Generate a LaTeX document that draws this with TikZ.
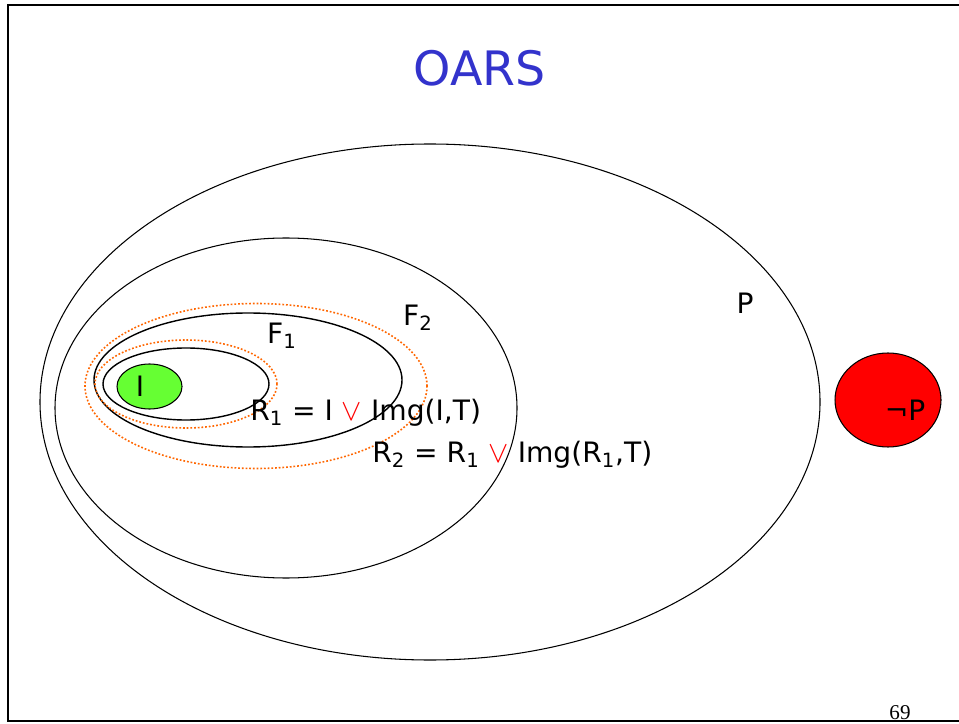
\documentclass[tikz,border=0pt]{standalone}
\usepackage{fontspec}
\setmainfont{DejaVu Sans}
\newfontfamily\pagenofont{Liberation Serif}
\usepackage{tikz}
\usetikzlibrary{shapes.geometric}
\definecolor{titleblue}{RGB}{51,51,204}
\definecolor{initgreen}{RGB}{102,255,51}
\definecolor{reachorange}{RGB}{255,102,0}

\begin{document}
\begin{tikzpicture}[
    setnode/.style={ellipse, draw, line width=0.6pt, inner sep=0pt},
    frontier/.style={ellipse, draw, line width=0.8pt, inner sep=0pt},
    reach/.style={ellipse, draw=reachorange, line width=0.9pt,
                  dash pattern=on 1pt off 1.1pt, inner sep=0pt},
    lbl/.style={font=\fontsize{16}{19}\selectfont, inner sep=0pt},
    eqn/.style={font=\fontsize{16}{19}\selectfont, inner sep=0pt, anchor=west}
]
\useasboundingbox (0,0) rectangle (19.18,14.46);

%% ---- frame ----
\draw[line width=1.4pt] (19.18,14.36) -- (0.16,14.36) -- (0.16,0.04) -- (19.18,0.04);

%% ---- title ----
\node[font=\fontsize{27}{30}\selectfont, color=titleblue] (title) at (9.60,13.10) {OARS};

%% ---- sets ----
\node[setnode, minimum width=15.6cm, minimum height=10.32cm] (P)  at (8.60,6.42) {};
\node[setnode, minimum width=9.24cm, minimum height=6.80cm]  (S)  at (5.72,6.30) {};
\node[frontier, minimum width=6.16cm, minimum height=2.68cm] (F2) at (4.96,6.86) {};
\node[frontier, minimum width=3.32cm, minimum height=1.44cm] (F1) at (3.72,6.78) {};
\node[reach, minimum width=3.64cm, minimum height=1.76cm]    (R1) at (3.72,6.78) {};
\node[reach, minimum width=6.84cm, minimum height=3.30cm]    (R2) at (5.12,6.74) {};
\node[setnode, fill=initgreen, minimum width=1.30cm, minimum height=0.90cm] (I) at (2.99,6.73) {};
\node[setnode, fill=red, minimum width=2.12cm, minimum height=1.88cm] (notP) at (17.76,6.46) {};

%% ---- labels ----
\node[lbl] (Plbl)    at (14.90,8.40) {P};
\node[lbl] (F2lbl)   at (8.36,8.10)  {F\textsubscript{2}};
\node[lbl] (F1lbl)   at (5.64,7.74)  {F\textsubscript{1}};
\node[lbl] (Ilbl)    at (2.80,6.74)  {I};
\node[lbl] (notPlbl) at (18.10,6.26) {¬P};
\node[eqn] (R1lbl) at (5.00,6.20) {R\textsubscript{1} = I \textcolor{red}{$\vee$} Img(I,T)};
\node[eqn] (R2lbl) at (7.44,5.36) {R\textsubscript{2} = R\textsubscript{1} \textcolor{red}{$\vee$} Img(R\textsubscript{1},T)};

%% ---- page number ----
\node[font=\pagenofont\fontsize{12}{14}\selectfont, anchor=base] (pageno) at (18.00,0.08) {69};

\end{tikzpicture}
\end{document}
